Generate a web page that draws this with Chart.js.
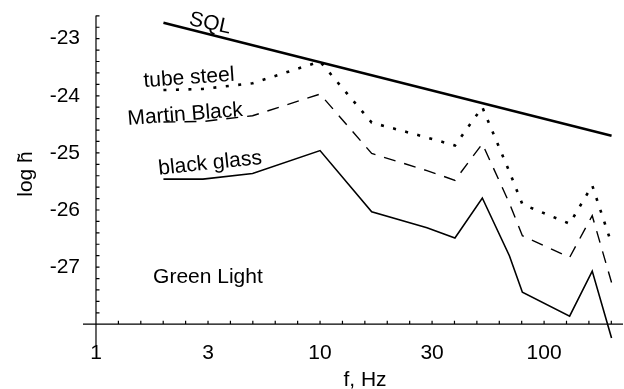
<!DOCTYPE html>
<html>
<head>
<meta charset="utf-8">
<script src="https://cdn.jsdelivr.net/npm/chart.js@4/dist/chart.umd.min.js"></script>
<style>
  html, body { margin: 0; padding: 0; background: #fff; }
  canvas { display: block; }
</style>
</head>
<body>
<canvas id="c" width="624" height="389"></canvas>
<script>
// ====== DATA ======
const freqs = [2, 3, 5, 10, 17, 30, 40, 53, 70, 80, 130, 164, 200];
const tubeSteel = [-23.90, -23.88, -23.78, -23.40, -24.47, -24.73, -24.87, -24.20, -25.33, -25.90, -26.24, -25.57, -26.59];
const martinBlack = [-24.46, -24.45, -24.35, -23.97, -25.01, -25.31, -25.48, -24.84, -25.88, -26.45, -26.83, -26.10, -27.27];
const blackGlass = [-25.46, -25.46, -25.36, -24.96, -26.03, -26.31, -26.49, -25.79, -26.80, -27.44, -27.86, -27.07, -28.24];
const sqlFreqs = [2, 200];
const sqlValues = [-22.72, -24.70];

// tick labels (x: one every half decade, y: integers)
const xTickLabels = ["1", "3", "10", "30", "100"];
const yTickLabels = [-27, -26, -25, -24, -23];
// ============================

const FONT = "'Liberation Sans', Arial, sans-serif";
const toPoints = (xs, ys) => xs.map((x, i) => ({ x, y: ys[i] }));

// minor tick positions: every 0.1 decade on x, every 0.2 on y
const xTickValues = [];
for (let k = 0; k <= 23; k++) xTickValues.push(Math.pow(10, k / 10));
const yTickValues = [];
for (let k = 0; k <= 27; k++) yTickValues.push(-28 + k * 0.2);

// text placed inside the plot (data coordinates)
const notes = [
  { text: "SQL", f: 3.23, v: -22.735, angle: 12 },
  { text: "tube steel", f: 2.6, v: -23.69, angle: -4 },
  { text: "Martin Black", f: 2.5, v: -24.33, angle: -4.5 },
  { text: "black glass", f: 3.23, v: -25.185, angle: -6 },
  { text: "Green Light", f: 3.16, v: -27.18, angle: 0 },
];

// axes crossing at (1, -28), Mathematica style, plus annotations
const axesPlugin = {
  id: "axes",
  afterDraw(chart) {
    const { ctx, scales: { x, y }, chartArea } = chart;
    const ax = x.getPixelForValue(1);
    const ay = y.getPixelForValue(-28);
    ctx.save();
    ctx.strokeStyle = "#000";
    ctx.lineWidth = 1.2;
    ctx.beginPath();
    ctx.moveTo(chartArea.left, ay);
    ctx.lineTo(chartArea.right, ay);
    ctx.moveTo(ax, chartArea.top);
    ctx.lineTo(ax, chartArea.bottom);
    for (const t of xTickValues) {
      const px = x.getPixelForValue(t);
      ctx.moveTo(px, ay);
      ctx.lineTo(px, ay - 3.5);
    }
    for (const t of yTickValues) {
      const py = y.getPixelForValue(t);
      ctx.moveTo(ax, py);
      ctx.lineTo(ax + 3.5, py);
    }
    ctx.stroke();

    ctx.fillStyle = "#000";
    ctx.font = "21px " + FONT;
    ctx.textAlign = "center";
    ctx.textBaseline = "middle";
    for (const n of notes) {
      ctx.save();
      ctx.translate(x.getPixelForValue(n.f), y.getPixelForValue(n.v));
      ctx.rotate(n.angle * Math.PI / 180);
      ctx.fillText(n.text, 0, 0);
      ctx.restore();
    }

    // axis titles
    ctx.fillText("f, Hz", 365, 380);
    ctx.save();
    ctx.translate(26, 174);
    ctx.rotate(-Math.PI / 2);
    ctx.fillText("log h\u0303", 0, 0);
    ctx.restore();
    ctx.restore();
  },
};

new Chart(document.getElementById("c"), {
  type: "line",
  data: {
    datasets: [
      {
        label: "SQL",
        data: toPoints(sqlFreqs, sqlValues),
        borderColor: "#000",
        borderWidth: 2.5,
      },
      {
        label: "tube steel",
        data: toPoints(freqs, tubeSteel),
        borderColor: "#000",
        borderWidth: 2.6,
        borderDash: [3, 9.5],
      },
      {
        label: "Martin Black",
        data: toPoints(freqs, martinBlack),
        borderColor: "#000",
        borderWidth: 1.4,
        borderDash: [12, 9],
      },
      {
        label: "black glass",
        data: toPoints(freqs, blackGlass),
        borderColor: "#000",
        borderWidth: 1.6,
      },
    ],
  },
  options: {
    responsive: false,
    animation: false,
    events: [],
    layout: { padding: { top: 13, right: 1, left: 0, bottom: 0 } },
    elements: { point: { radius: 0 }, line: { tension: 0, fill: false } },
    plugins: { legend: { display: false }, tooltip: { enabled: false } },
    scales: {
      x: {
        type: "logarithmic",
        min: 0.875,
        max: 225,
        grid: { display: false, drawTicks: false },
        border: { display: false },
        afterBuildTicks: (s) => { s.ticks = xTickValues.map((v) => ({ value: v })); },
        afterFit: (s) => { s.height = 44; },
        ticks: {
          autoSkip: false,
          maxRotation: 0,
          padding: -4,
          color: "#000",
          font: { size: 21, family: FONT },
          callback: (v, i) => (i % 5 === 0 ? xTickLabels[i / 5] : ""),
        },
      },
      y: {
        type: "linear",
        min: -28.364,
        max: -22.596,
        grid: { display: false, drawTicks: false },
        border: { display: false },
        afterBuildTicks: (s) => { s.ticks = yTickValues.map((v) => ({ value: v })); },
        afterFit: (s) => { s.width = 83; },
        ticks: {
          autoSkip: false,
          padding: 3,
          color: "#000",
          font: { size: 21, family: FONT },
          callback: (v) => {
            const hit = yTickLabels.find((l) => Math.abs(l - v) < 1e-6);
            return hit !== undefined ? String(hit) : "";
          },
        },
      },
    },
  },
  plugins: [axesPlugin],
});
</script>
</body>
</html>
